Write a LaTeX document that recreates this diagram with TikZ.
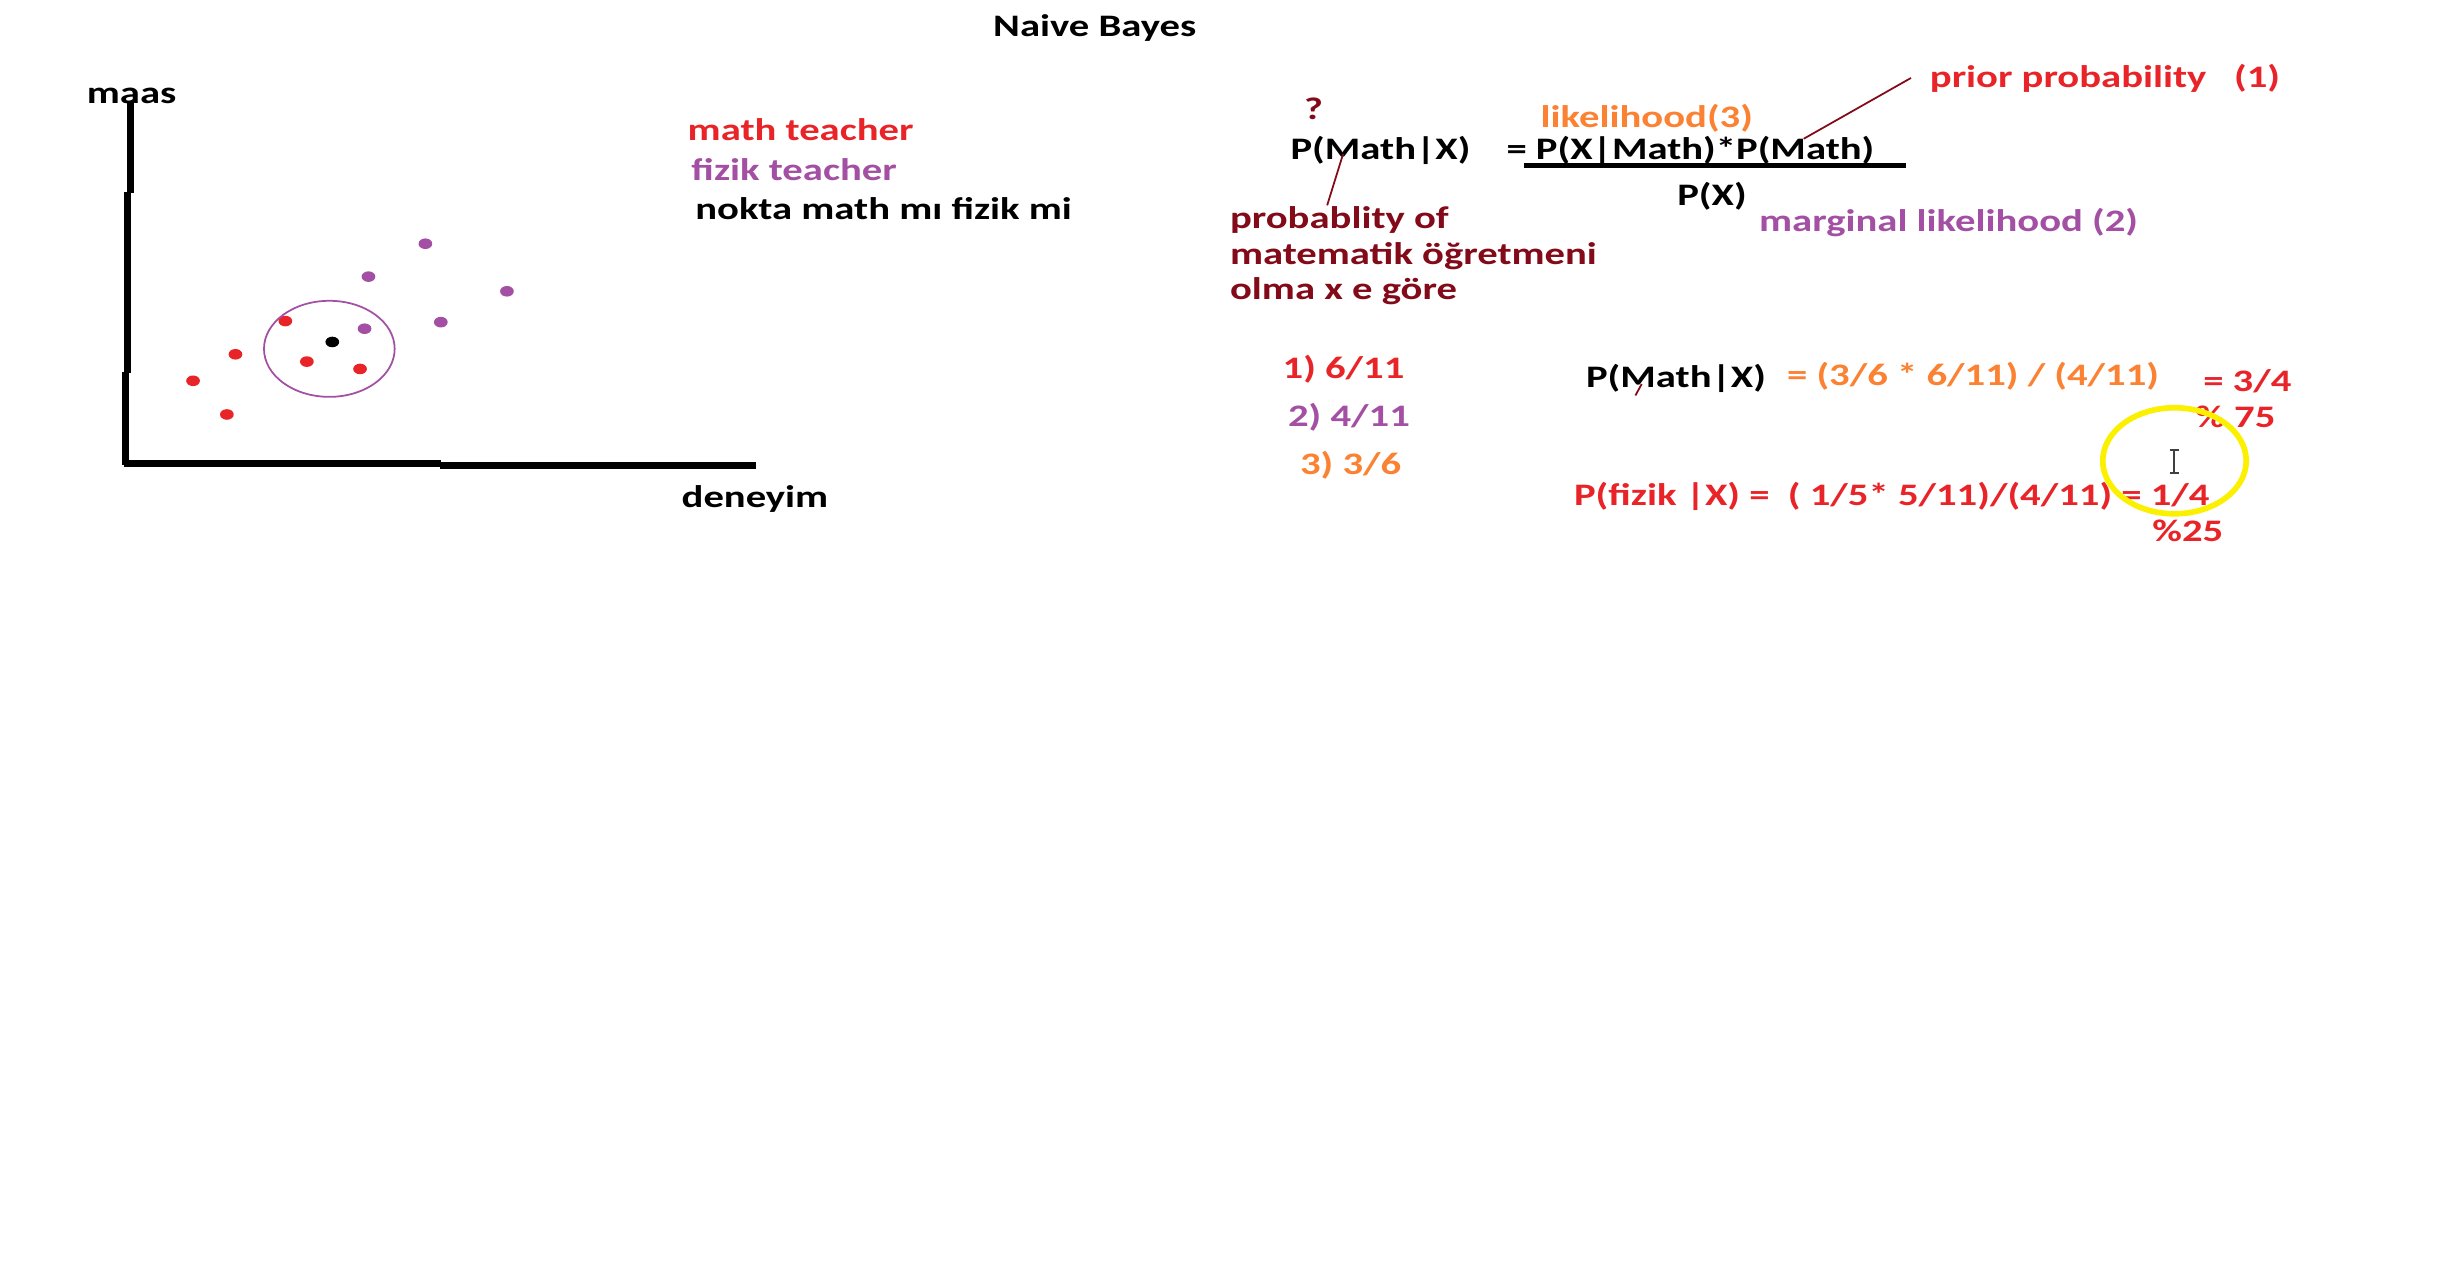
\documentclass[tikz,border=0pt]{standalone}
\usepackage{fontspec}
\setmainfont{Carlito}[FakeStretch=1.3]
\usetikzlibrary{positioning}
\definecolor{paintred}{RGB}{232,36,40}
\definecolor{paintpurple}{RGB}{163,80,164}
\definecolor{paintorange}{RGB}{250,130,50}
\definecolor{paintmaroon}{RGB}{130,10,25}
\definecolor{paintyellow}{RGB}{250,240,0}

\begin{document}
\begin{tikzpicture}[x=0.015593cm, y=-0.015593cm,
    txt/.style={anchor=base west, inner sep=0pt, yshift=-1.1pt, font=\fontsize{8.9}{10}\selectfont\bfseries},
    axis/.style={line width=2pt},
    mathpt/.style={fill=paintred},
    fizikpt/.style={fill=paintpurple},
    note/.style={draw=paintmaroon, line width=0.5pt}]
    \useasboundingbox[fill=white] (0,0) rectangle (1568,820.9);

    % scatter plot
    \node[txt] (title) at (636.5,21) {Naive Bayes};
    \node[txt] (ylab) at (55.3,64) {maas};
    \node[txt] (xlab) at (436.7,323) {deneyim};
    \draw[axis] (83.9,65) -- (83.9,123.5) (81.9,123) -- (81.9,239.3) (80.4,238.8) -- (80.4,298.3);
    \draw[axis] (79.4,297.2) -- (282.5,297.2) (282,298.3) -- (485,298.3);
    \foreach \px/\py in {183/205.9, 151/227.2, 196.8/231.9, 230.9/236.6, 123.8/244.2, 145.5/265.8}
        \fill[mathpt] (\px,\py) ellipse [x radius=4.4, y radius=3.4];
    \foreach \px/\py in {272.8/156.3, 236.3/177.4, 325.1/186.8, 282.7/206.6, 233.8/210.8}
        \fill[fizikpt] (\px,\py) ellipse [x radius=4.4, y radius=3.4];
    \fill (213.1,219.3) ellipse [x radius=4.4, y radius=3.4];
    \draw[paintpurple, line width=0.5pt] (211.2,223.7) ellipse [x radius=41.9, y radius=30.8];

    % legend
    \node[txt, text=paintred] (leg1) at (440.6,87.5) {math teacher};
    \node[txt, text=paintpurple] (leg2) at (443,113) {fizik teacher};
    \node[txt] (leg3) at (445.5,138.5) {nokta math mı fizik mi};

    % bayes formula
    \node[txt, text=paintmaroon] (qmark) at (835.8,74.4) {?};
    \node[txt] (post) at (827.2,100) {P(Math|X)};
    \node[txt, text=paintorange] (like) at (987.6,79.2) {likelihood(3)};
    \node[txt] (num) at (965.7,100) {= P(X|Math)*P(Math)};
    \coordinate (fracl) at (977.4,106.1);
    \coordinate (fracr) at (1222,106.1);
    \draw[line width=1.2pt] (fracl) -- (fracr);
    \node[txt] (den) at (1075.2,129.2) {P(X)};
    \node[txt, text=paintpurple] (marg) at (1127.7,145.8) {marginal likelihood (2)};
    \node[txt, text=paintred] (prior) at (1237.2,53.6) {prior probability\ \ \ (1)};
    \coordinate (priorstart) at (1225.5,50);
    \coordinate (priortip) at (1156.7,89);
    \draw[note] (priorstart) -- (priortip);
    \node[txt, text=paintmaroon] (desc1) at (788.4,143.9) {probablity of};
    \node[txt, text=paintmaroon] (desc2) at (788.4,167) {matematik öğretmeni};
    \node[txt, text=paintmaroon] (desc3) at (788.4,189.7) {olma x e göre};
    \coordinate (posttip) at (861.3,98.8);
    \coordinate (descstart) at (851.1,131.7);
    \draw[note] (posttip) -- (descstart);

    % values
    \node[txt, text=paintred] (v1) at (822.1,240.2) {1) 6/11};
    \node[txt, text=paintpurple] (v2) at (825.6,271.2) {2) 4/11};
    \node[txt, text=paintorange] (v3) at (833.3,301.6) {3) 3/6};

    % results
    \node[txt] (post2) at (1016.7,246.3) {P(Math|X)};
    \coordinate (ticka) at (1048.8,253.6);
    \coordinate (tickb) at (1052.8,246.3);
    \draw[note] (ticka) -- (tickb);
    \node[txt, text=paintorange] (calc1) at (1145.6,245) {= (3/6 * 6/11) / (4/11)};
    \node[txt, text=paintred] (res1) at (1412.5,248.7) {= 3/4};
    \node[txt, text=paintred] (pct1) at (1407.4,271.9) {\% 75};
    \node[txt, text=paintred] (calc2) at (1009,321.9) {P(fizik |X) =\ \ ( 1/5* 5/11)/(4/11) = 1/4};
    \node[txt, text=paintred] (pct2) at (1379.9,345) {\%25};

    % highlight and cursor
    \draw[paintyellow, line width=1.6pt] (1394.5,295.5) ellipse [x radius=46, y radius=34];
    \draw[black!75, line width=0.5pt] (1391.6,288.5) -- (1397.2,288.5) (1394.4,288.5) -- (1394.4,303.2) (1391.6,303.2) -- (1397.2,303.2);
\end{tikzpicture}
\end{document}
